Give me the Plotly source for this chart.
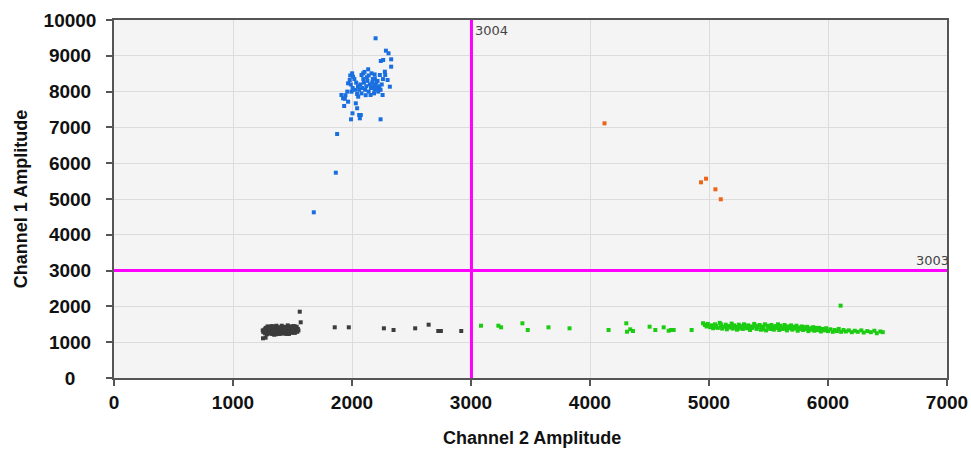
import plotly.graph_objects as go

# Thresholds
thr_ch2 = 3004  # vertical line (Channel 2)
thr_ch1 = 3003  # horizontal line (Channel 1)

# Axis titles
x_title = "Channel 2 Amplitude"
y_title = "Channel 1 Amplitude"

# Blue droplets (Ch1+ / Ch2-)
blue_x = [2198, 2285, 2307, 2329, 2262, 2242, 2329, 2136, 2164, 2001, 2009, 1981, 1967, 2276, 2279, 2234,
          2080, 2094, 2192, 2206, 2299, 2318, 1911, 1925, 1967, 1934, 1996, 2052, 2043, 2156, 2257, 2032,
          2043, 2004, 2060, 2074, 2066, 1992, 2240, 1875, 1864, 1679,
          2070, 2085, 2100, 2110, 2120, 2130, 2140, 2150, 2160, 2170, 2180, 2190, 2200, 2210, 2220, 2095,
          2125, 2175, 2215, 2230, 2240, 2060, 2050, 2035, 2020, 2005, 1990, 1960, 1945, 2080, 2115, 2185,
          2250, 2260, 2140, 2105, 2190, 1985, 2025, 1940]
blue_y = [9489, 9143, 9070, 8902, 8883, 8855, 8696, 8623, 8511, 8511, 8416, 8324, 8231, 8556, 8464, 8464,
          8464, 8511, 8371, 8277, 8324, 8137, 7905, 7813, 7718, 7598, 7997, 7858, 7933, 7905, 7905, 7673,
          7534, 7394, 7346, 7346, 7254, 7226, 7226, 6816, 5735, 4628,
          8200, 8100, 8250, 8050, 8150, 8300, 8000, 8200, 8100, 8250, 8150, 8050, 8200, 8100, 8000, 8350,
          8400, 8350, 8300, 8150, 8050, 8050, 8150, 8250, 8350, 8100, 8200, 8000, 7900, 7950, 7900, 7950,
          8200, 8350, 8450, 8550, 8480, 8450, 8050, 7800]

# Orange droplets (Ch1+ / Ch2+)
orange_x = [4122, 4933, 4975, 5054, 5099]
orange_y = [7114, 5466, 5567, 5271, 4992]

# Green droplets (Ch1- / Ch2+)
green_x = [3084, 3230, 3253, 3432, 3477, 3651, 3828, 4156, 4305, 4311, 4338, 4361, 4501, 4549, 4619, 4661,
           4681, 4703, 4854, 6106,
           4950, 4965, 4980, 4990, 5010, 5020, 5035, 5050, 5060, 5075, 5090, 5100, 5110, 5125, 5140, 5150,
           5165, 5180, 5190, 5200, 5210, 5225, 5235, 5250, 5260, 5270, 5285, 5295, 5310, 5320, 5330, 5345,
           5355, 5365, 5380, 5390, 5400, 5410, 5425, 5435, 5445, 5455, 5470, 5480, 5490, 5500, 5515, 5525,
           5535, 5545, 5560, 5570, 5580, 5590, 5600, 5610, 5620, 5635, 5645, 5655, 5665, 5675, 5690, 5700,
           5710, 5720, 5735, 5745, 5755, 5765, 5780, 5790, 5800, 5815, 5825, 5835, 5850, 5860, 5875, 5885,
           5895, 5910, 5925, 5940, 5955, 5970, 5985, 6000, 6020, 6040, 6055, 6075, 6090, 6110, 6130, 6150,
           6175, 6200, 6225, 6250, 6280, 6300, 6330, 6360, 6390, 6410, 6440, 6460,
           5050, 5150, 5250, 5350, 5450, 5550, 5650, 5750, 5850, 5950, 5300, 5400, 5500, 5600, 5700, 5800,
           5900, 5200, 5100, 4975]
green_y = [1461, 1461, 1416, 1528, 1341, 1416, 1388, 1341, 1528, 1293, 1360, 1313, 1433, 1341, 1416, 1321,
           1341, 1341, 1341, 2020,
           1530, 1480, 1440, 1510, 1420, 1470, 1390, 1500, 1450, 1400, 1540, 1460, 1380, 1430, 1490, 1360,
           1450, 1410, 1520, 1380, 1470, 1430, 1350, 1490, 1410, 1450, 1370, 1500, 1430, 1390, 1470, 1340,
           1440, 1400, 1510, 1460, 1370, 1420, 1480, 1350, 1440, 1400, 1500, 1330, 1460, 1410, 1370, 1480,
           1430, 1350, 1450, 1400, 1500, 1340, 1460, 1410, 1370, 1480, 1430, 1330, 1440, 1390, 1470, 1350,
           1420, 1380, 1460, 1320, 1410, 1370, 1440, 1340, 1400, 1360, 1430, 1310, 1390, 1350, 1420, 1320,
           1380, 1340, 1400, 1300, 1370, 1330, 1390, 1310, 1360, 1290, 1340, 1310, 1370, 1290, 1340, 1300,
           1330, 1280, 1320, 1290, 1330, 1270, 1310, 1280, 1320, 1250, 1300, 1280,
           1420, 1430, 1380, 1400, 1360, 1390, 1380, 1360, 1370, 1350, 1460, 1440, 1450, 1420, 1430, 1420,
           1400, 1440, 1500, 1490]

# Black droplets (double negative)
black_x = [1260, 1265, 1270, 1275, 1280, 1285, 1290, 1295, 1300, 1305, 1310, 1315, 1320, 1325, 1330, 1335,
           1340, 1345, 1350, 1355, 1360, 1365, 1370, 1375, 1380, 1385, 1390, 1395, 1400, 1405, 1410, 1415,
           1420, 1425, 1430, 1435, 1440, 1445, 1450, 1455, 1460, 1465, 1470, 1475, 1480, 1485, 1490, 1495,
           1500, 1505, 1510, 1515, 1520, 1525, 1530, 1535, 1540, 1545, 1550, 1290, 1300, 1320, 1340, 1360,
           1380, 1400, 1420, 1440, 1460, 1480, 1500, 1520, 1270, 1350, 1430, 1410, 1390, 1370, 1460, 1310,
           1330, 1450, 1490, 1250, 1255,
           1561, 1569, 1252, 1274, 1855, 1973, 2268, 2349, 2531, 2644, 2725, 2747, 2918]
black_y = [1300, 1350, 1250, 1400, 1320, 1220, 1370, 1280, 1430, 1340, 1240, 1390, 1300, 1450, 1260, 1360,
           1320, 1210, 1410, 1290, 1350, 1460, 1250, 1380, 1310, 1420, 1230, 1340, 1400, 1280, 1460, 1330,
           1240, 1370, 1300, 1430, 1260, 1350, 1410, 1290, 1470, 1320, 1230, 1380, 1300, 1440, 1260, 1360,
           1410, 1300, 1450, 1340, 1260, 1390, 1320, 1430, 1290, 1370, 1330, 1440, 1260, 1380, 1440, 1220,
           1390, 1250, 1420, 1330, 1260, 1400, 1340, 1440, 1360, 1330, 1360, 1350, 1300, 1330, 1380, 1420,
           1230, 1230, 1430, 1330, 1280,
           1852, 1556, 1109, 1126, 1416, 1416, 1388, 1341, 1388, 1489, 1313, 1313, 1313]

x_ticks = [0, 1000, 2000, 3000, 4000, 5000, 6000, 7000]
y_ticks = [0, 1000, 2000, 3000, 4000, 5000, 6000, 7000, 8000, 9000, 10000]


def centered_label(v, width=5):
    # pad on the right with figure / punctuation spaces so that right-aligned labels look centred
    s = str(v)
    pad = width - len(s)
    return s + "\u2007" * (pad // 2) + ("\u2008" if pad % 2 else "")


fig = go.Figure()


def add(xs, ys, color):
    fig.add_trace(go.Scatter(x=xs, y=ys, mode="markers",
                             marker=dict(symbol="square", size=4, color=color, line=dict(width=0)),
                             showlegend=False, hoverinfo="x+y"))


add(black_x, black_y, "#3c3c3c")
add(green_x, green_y, "#1ccc12")
add(blue_x, blue_y, "#1a6fe0")
add(orange_x, orange_y, "#ec6516")

# Threshold lines
fig.add_shape(type="line", xref="x", yref="y", x0=thr_ch2, x1=thr_ch2, y0=0, y1=10000,
              line=dict(color="#ff00ff", width=3), layer="above")
fig.add_shape(type="line", xref="x", yref="y", x0=0, x1=7000, y0=thr_ch1, y1=thr_ch1,
              line=dict(color="#ff00ff", width=3), layer="above")

fig.add_annotation(x=thr_ch2, y=10000, xref="x", yref="y", text=str(thr_ch2), showarrow=False,
                   xanchor="left", yanchor="top", xshift=2, yshift=-1,
                   font=dict(family="DejaVu Sans", size=13, color="#444444"))
fig.add_annotation(x=7000, y=thr_ch1, xref="x", yref="y", text=str(thr_ch1), showarrow=False,
                   xanchor="right", yanchor="bottom", xshift=4, yshift=0,
                   font=dict(family="DejaVu Sans", size=13, color="#444444"))

tick_font = dict(family="Liberation Sans", size=19, color="#111111", weight="bold")
title_font = dict(family="Liberation Sans", size=18, color="#111111", weight="bold")

# x-axis title placed as a text label under the axis
fig.add_annotation(x=0.5, y=0, xref="paper", yref="paper", text=x_title, showarrow=False,
                   xanchor="center", yanchor="middle", xshift=1, yshift=-60, font=title_font)

axis_common = dict(showgrid=True, gridcolor="#dcdcdc", gridwidth=1.3, zeroline=False,
                   showline=True, linecolor="#555555", linewidth=1.5, mirror=True,
                   ticks="outside", ticklen=6, tickcolor="#555555", tickwidth=1.5,
                   tickfont=tick_font, ticklabeloverflow="allow", automargin=False)

fig.update_xaxes(range=[0, 7000], tickvals=x_ticks, ticktext=[str(v) for v in x_ticks],
                 ticklabelstandoff=0, **axis_common)
fig.update_yaxes(range=[0, 10000], tickvals=y_ticks, ticktext=[centered_label(v) for v in y_ticks],
                 ticklabelstandoff=6,
                 title=dict(text=y_title, standoff=11, font=title_font),
                 **axis_common)

# inner half of the crossing tick marks
fig.update_layout(
    xaxis2=dict(overlaying="x", matches="x", range=[0, 7000], tickvals=x_ticks, ticks="inside", ticklen=6,
                tickcolor="#555555", tickwidth=1.5, showticklabels=False, showgrid=False, zeroline=False,
                showline=False, automargin=False),
    yaxis2=dict(overlaying="y", matches="y", range=[0, 10000], tickvals=y_ticks, ticks="inside", ticklen=6,
                tickcolor="#555555", tickwidth=1.5, showticklabels=False, showgrid=False, zeroline=False,
                showline=False, automargin=False),
)

fig.update_layout(width=971, height=450, margin=dict(l=114, r=24, t=20, b=72),
                  paper_bgcolor="white", plot_bgcolor="#f4f4f4")

# remove the default page margin so the 971x450 figure fills the window exactly
fig.write_html("out.html", config={"displayModeBar": False},
               post_script="document.body.style.margin='0';document.body.style.overflow='hidden';")
